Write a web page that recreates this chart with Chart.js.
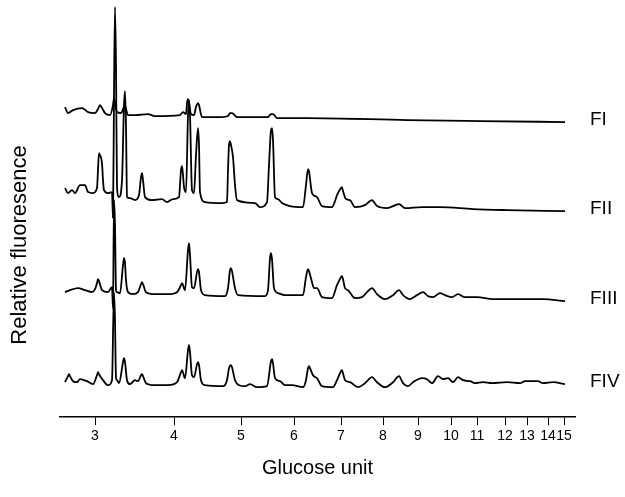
<!DOCTYPE html>
<html>
<head>
<meta charset="utf-8">
<script src="https://cdn.jsdelivr.net/npm/chart.js@4"></script>
<style>
  html, body { margin: 0; padding: 0; background: #fff; }
  #wrap { width: 625px; height: 497px; }
</style>
</head>
<body>
<div id="wrap"><canvas id="canvas"></canvas></div>
<script>
// retention position of each glucose unit on the x axis (nonlinear ladder)
const guLabels = ['3','4','5','6','7','8','9','10','11','12','13','14','15'];
const guPositions = [3.5, 11.4, 18.1, 23.4, 28.1, 32.3, 35.8, 39.1, 41.7, 44.5, 46.7, 48.8, 50.4];

const traceNames = ['FI', 'FII', 'FIII', 'FIV'];
const traceOffsets = [292, 202, 112, 27];

// [retention, fluorescence]
const fI = [[0.5,18],[0.8,12],[1.3,15],[2.2,17],[2.8,13],[3.5,12],[3.8,16],[4.0,20],[4.2,17],[4.5,12],[5.0,10],
  [5.3,20],[5.4,27],[5.5,22],[5.7,13],[6.1,12],[6.4,18],[6.5,19],[6.6,16],[6.8,10],[7.5,10],[8.8,11],[9.5,9],
  [12.0,10],[12.3,13],[12.6,11],[12.7,22],[12.8,26],[12.9,22],[13.1,11],[13.4,10],[13.6,18],[13.8,22],[13.9,20],
  [14.2,8],[16.2,8],[16.8,9],[17.0,12],[17.2,12],[17.7,8],[19.5,8],[20.8,8],[21.1,11],[21.3,11],[21.7,7],[24.7,7],
  [34.7,5],[42.0,4],[50.5,3]];
const fII = [[0.5,27],[0.8,22],[1.2,25],[1.5,22],[2.0,30],[2.5,30],[2.8,23],[3.3,22],[3.7,27],[3.8,45],[3.9,62],
  [4.0,60],[4.2,52],[4.3,35],[4.4,25],[4.8,22],[5.2,23],[5.3,-3],[5.4,120],[5.5,208],[5.6,150],[5.7,28],[5.9,18],
  [6.2,35],[6.4,110],[6.5,124],[6.6,90],[6.7,18],[7.0,17],[7.5,15],[7.9,20],[8.1,38],[8.2,42],[8.3,35],[8.5,18],
  [9.2,15],[10.2,16],[10.7,13],[11.3,16],[11.9,18],[12.1,45],[12.2,49],[12.3,40],[12.4,28],[12.6,23],[12.8,100],
  [12.9,115],[13.0,100],[13.2,25],[13.4,22],[13.6,60],[13.8,87],[13.9,70],[14.0,23],[14.5,13],[16.2,12],[16.7,13],
  [16.8,45],[16.9,70],[17.0,74],[17.1,70],[17.3,58],[17.5,30],[17.7,15],[19.5,12],[20.0,8],[20.7,13],[20.9,50],
  [21.1,85],[21.2,87],[21.3,75],[21.5,18],[21.8,16],[22.2,12],[23.0,9],[24.3,8],[24.6,30],[24.8,46],[24.9,44],
  [25.1,28],[25.2,22],[25.7,18],[26.2,9],[27.2,8],[27.5,14],[27.7,20],[28.1,27],[28.2,28],[28.3,24],[28.6,16],
  [29.0,15],[29.5,8],[30.5,10],[31.0,14],[31.2,15],[31.4,13],[31.7,9],[32.7,7],[33.9,11],[34.5,7],[36.2,8],
  [38.0,8],[41.3,6],[44.7,5],[50.5,4]];
const fIII = [[0.5,13],[1.0,15],[1.8,17],[2.5,15],[3.2,13],[3.5,16],[3.7,22],[3.8,26],[3.9,24],[4.2,15],[4.8,13],
  [5.2,18],[5.3,-3],[5.4,105],[5.5,80],[5.6,15],[5.7,13],[6.0,12],[6.3,40],[6.4,47],[6.5,42],[6.6,25],[6.8,13],
  [7.3,11],[7.8,13],[8.1,21],[8.2,23],[8.3,21],[8.6,13],[9.5,11],[10.8,11],[11.7,13],[12.1,20],[12.2,22],[12.5,15],
  [12.8,55],[12.9,62],[13.0,50],[13.2,18],[13.4,17],[13.7,33],[13.8,36],[13.9,33],[14.1,15],[14.5,10],[16.5,9],
  [16.8,17],[17.0,35],[17.1,37],[17.2,34],[17.5,17],[17.8,10],[20.5,9],[20.8,15],[21.0,47],[21.1,52],[21.2,46],
  [21.4,17],[21.8,12],[22.5,10],[24.3,10],[24.6,28],[24.8,36],[24.9,34],[25.2,23],[25.4,17],[25.7,17],[26.2,8],
  [27.2,7],[27.7,20],[28.1,28],[28.2,29],[28.3,26],[28.5,17],[28.8,15],[29.5,7],[30.2,8],[30.7,13],[31.2,17],
  [31.7,11],[32.5,6],[33.3,10],[33.9,15],[34.3,10],[35.0,6],[35.7,10],[36.3,13],[36.8,9],[37.3,8],[38.0,12],
  [38.5,10],[39.2,8],[39.8,11],[40.5,8],[41.7,8],[43.3,6],[46.3,6],[48.3,6],[50.5,4]];
const fIV = [[0.5,8],[0.8,14],[0.9,16],[1.0,14],[1.3,9],[1.7,8],[2.0,11],[2.7,9],[3.3,6],[3.7,15],[3.8,18],[3.9,16],
  [4.3,10],[4.8,5],[5.2,10],[5.4,98],[5.5,70],[5.6,12],[5.7,10],[5.9,7],[6.3,28],[6.4,32],[6.5,28],[6.7,10],
  [7.0,6],[7.5,10],[7.8,9],[8.1,15],[8.2,16],[8.3,14],[8.6,7],[9.5,5],[10.8,5],[11.7,8],[12.1,18],[12.2,20],
  [12.5,12],[12.8,40],[12.9,45],[13.0,38],[13.2,15],[13.4,13],[13.7,26],[13.8,28],[13.9,25],[14.1,10],[14.5,5],
  [16.3,4],[16.7,10],[16.9,22],[17.1,25],[17.2,23],[17.5,10],[17.9,5],[18.5,4],[19.0,6],[19.7,3],[20.7,4],
  [21.1,29],[21.2,31],[21.3,27],[21.5,12],[22.0,9],[22.5,5],[23.2,5],[24.3,3],[24.6,10],[24.8,22],[24.9,24],
  [25.0,22],[25.3,15],[25.7,12],[26.2,4],[27.3,3],[27.7,10],[28.1,19],[28.2,20],[28.3,17],[28.5,10],[29.0,8],
  [29.8,3],[30.5,7],[31.2,13],[31.7,8],[32.5,3],[33.3,8],[33.9,14],[34.3,7],[34.8,4],[35.3,8],[36.2,12],[36.7,11],
  [37.2,7],[37.8,14],[38.3,11],[38.8,12],[39.3,8],[39.8,13],[40.3,10],[41.0,9],[41.5,7],[42.3,8],[43.2,7],
  [44.7,8],[46.0,7],[46.5,9],[47.8,9],[48.3,7],[49.3,8],[50.5,6]];

const traces = [fI, fII, fIII, fIV];

const FONT = '"Liberation Sans", Arial, sans-serif';

const extraText = {
  id: 'extraText',
  afterDatasetsDraw(chart) {
    const ctx = chart.ctx;
    ctx.save();
    ctx.fillStyle = '#000';
    ctx.font = '19px ' + FONT;
    ctx.textBaseline = 'middle';
    chart.data.datasets.forEach((ds, i) => {
      const pts = chart.getDatasetMeta(i).data;
      const last = pts[pts.length - 1];
      ctx.fillText(ds.label, chart.chartArea.right + 15, last.y - 2);
    });
    // y axis title
    ctx.font = '22px ' + FONT;
    ctx.textAlign = 'center';
    ctx.translate(20, 245);
    ctx.rotate(-Math.PI / 2);
    ctx.fillText('Relative fluoresence', 0, 0);
    ctx.restore();
  }
};

const data = {
  datasets: traces.map((t, i) => ({
    label: traceNames[i],
    data: t.map(p => ({x: p[0], y: p[1] + traceOffsets[i]})),
    borderColor: '#000',
    borderWidth: 1.8,
    pointRadius: 0,
    cubicInterpolationMode: 'monotone',
    fill: false
  }))
};

const config = {
  type: 'line',
  data: data,
  plugins: [extraText],
  options: {
    responsive: false,
    animation: false,
    layout: { padding: { left: 3, right: 50, top: 0, bottom: 13 } },
    plugins: { legend: { display: false }, tooltip: { enabled: false } },
    scales: {
      x: {
        type: 'linear',
        min: 0,
        max: 51.5,
        afterBuildTicks: (s) => { s.ticks = guPositions.map(v => ({value: v})); },
        ticks: {
          autoSkip: false,
          maxRotation: 0,
          color: '#000',
          padding: 3,
          font: { family: FONT, size: 14 },
          callback: (v, i) => guLabels[i]
        },
        grid: { display: true, drawOnChartArea: false, drawTicks: true, tickLength: 8, color: '#000', lineWidth: 1 },
        border: { display: true, color: '#000', width: 1.5 },
        title: {
          display: true,
          text: 'Glucose unit',
          color: '#000',
          padding: { top: 8, bottom: 4 },
          font: { family: FONT, size: 20 }
        }
      },
      y: {
        min: 0,
        max: 417,
        afterFit: (s) => { s.width = 57; },
        ticks: { display: false },
        grid: { display: false },
        border: { display: false }
      }
    }
  }
};

const canvas = document.getElementById('canvas');
canvas.width = 625;
canvas.height = 497;
const chart = new Chart(canvas, config);
</script>
</body>
</html>
